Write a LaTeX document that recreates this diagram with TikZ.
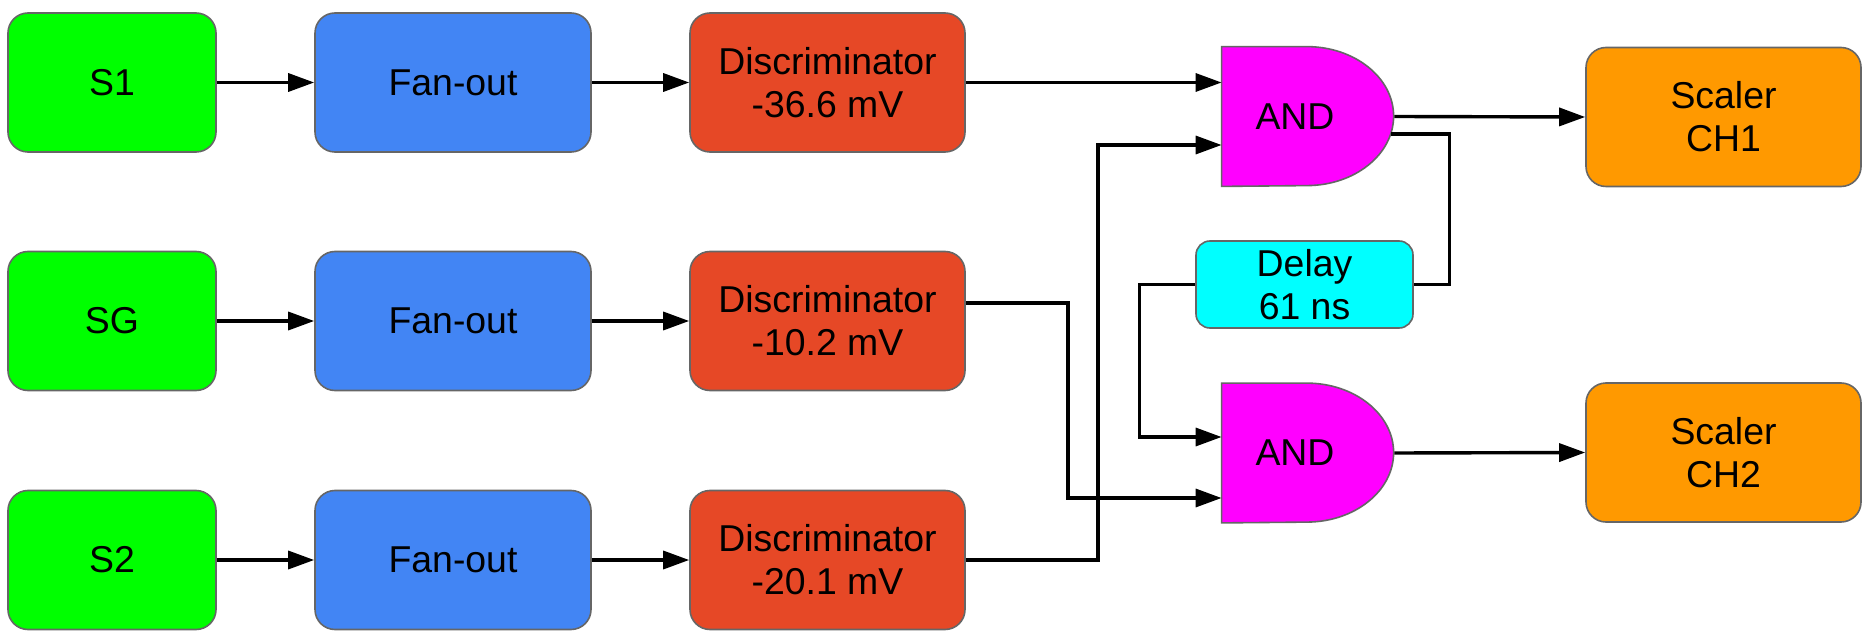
\documentclass[tikz,border=0pt]{standalone}
\usepackage{fontspec}
\setmainfont{Liberation Sans}
\usetikzlibrary{arrows.meta}
\definecolor{detColor}{RGB}{0,255,0}
\definecolor{fanColor}{RGB}{66,133,244}
\definecolor{discColor}{RGB}{230,72,38}
\definecolor{gateColor}{RGB}{255,0,255}
\definecolor{dlyColor}{RGB}{0,255,255}
\definecolor{scalColor}{RGB}{255,153,0}
\definecolor{borderColor}{gray}{0.40}
\tikzset{
  blk/.style={draw=borderColor, line width=0.8pt, rounded corners=10pt, minimum height=69.5pt,
    align=center, inner sep=0pt, font=\fontsize{18.7}{21.5}\selectfont},
  det/.style={blk, fill=detColor, minimum width=104pt},
  fan/.style={blk, fill=fanColor, minimum width=138pt},
  disc/.style={blk, fill=discColor, minimum width=137.5pt},
  scal/.style={blk, fill=scalColor, minimum width=137.5pt},
  dly/.style={blk, fill=dlyColor, minimum width=108.5pt, minimum height=43.5pt, rounded corners=7pt},
  gate/.style={minimum width=86pt, minimum height=69.5pt, inner sep=0pt},
  gateshape/.style={draw=borderColor, line width=0.8pt, fill=gateColor},
  gatetext/.style={inner sep=0pt, font=\fontsize{18.7}{21.5}\selectfont},
  wire/.style={line width=1.7pt},
  sig/.style={wire, -{Triangle[length=13pt,width=9pt]}},
}
\begin{document}
\begin{tikzpicture}[x=0.5pt,y=0.5pt]
\path[use as bounding box,fill=white] (0,0) rectangle (1873,638);

% detectors, fan-outs, discriminators
\node[det] (s1) at (112,555.5) {S1};
\node[det] (sg) at (112,317) {SG};
\node[det] (s2) at (112,78) {S2};

\node[fan] (f1) at (453,555.5) {Fan-out};
\node[fan] (fg) at (453,317) {Fan-out};
\node[fan] (f2) at (453,78) {Fan-out};

\node[disc] (d1) at (827.5,555.5) {Discriminator\\-36.6 mV};
\node[disc] (dg) at (827.5,317) {Discriminator\\-10.2 mV};
\node[disc] (d2) at (827.5,78) {Discriminator\\-20.1 mV};

% coincidence units
\node[gate] (g1) at (1308,521.5) {};
\node[gate] (g2) at (1308,185) {};
\path[gateshape] (g1.south west) -- (g1.north west) -- ++(42.5pt,0)
  arc[start angle=90, end angle=-90, x radius=43.5pt, y radius=34.75pt] -- cycle;
\path[gateshape] (g2.south west) -- (g2.north west) -- ++(42.5pt,0)
  arc[start angle=90, end angle=-90, x radius=43.5pt, y radius=34.75pt] -- cycle;
\node[gatetext] (g1t) at ([xshift=-6.5pt]g1.center) {AND};
\node[gatetext] (g2t) at ([xshift=-6.5pt]g2.center) {AND};

\node[dly] (dl) at (1304.5,353.5) {Delay\\61 ns};

\node[scal] (c1) at (1723.5,521) {Scaler\\CH1};
\node[scal] (c2) at (1723.5,185.5) {Scaler\\CH2};

% signal lines
\draw[sig] (s1) -- (f1);
\draw[sig] (sg) -- (fg);
\draw[sig] (s2) -- (f2);
\draw[sig] (f1) -- (d1);
\draw[sig] (fg) -- (dg);
\draw[sig] (f2) -- (d2);

\draw[sig] (d1.east) -- (d1.east -| g1.west);
\draw[sig] (d2.east) -- ++(132,0) |- ([yshift=-14.25pt]g1.west);
\draw[sig] ([yshift=9pt]dg.east) -- ++(102,0) |- ([yshift=-22.5pt]g2.west);

\draw[wire] ([shift={(-1.5pt,-8.75pt)}]g1.east) -- ++(58,0) |- (dl.east);
\draw[sig] (dl.west) -- ++(-56,0) |- ([yshift=8pt]g2.west);

\draw[sig] (g1.east) -- (c1.west);
\draw[sig] (g2.east) -- (c2.west);
\end{tikzpicture}
\end{document}
